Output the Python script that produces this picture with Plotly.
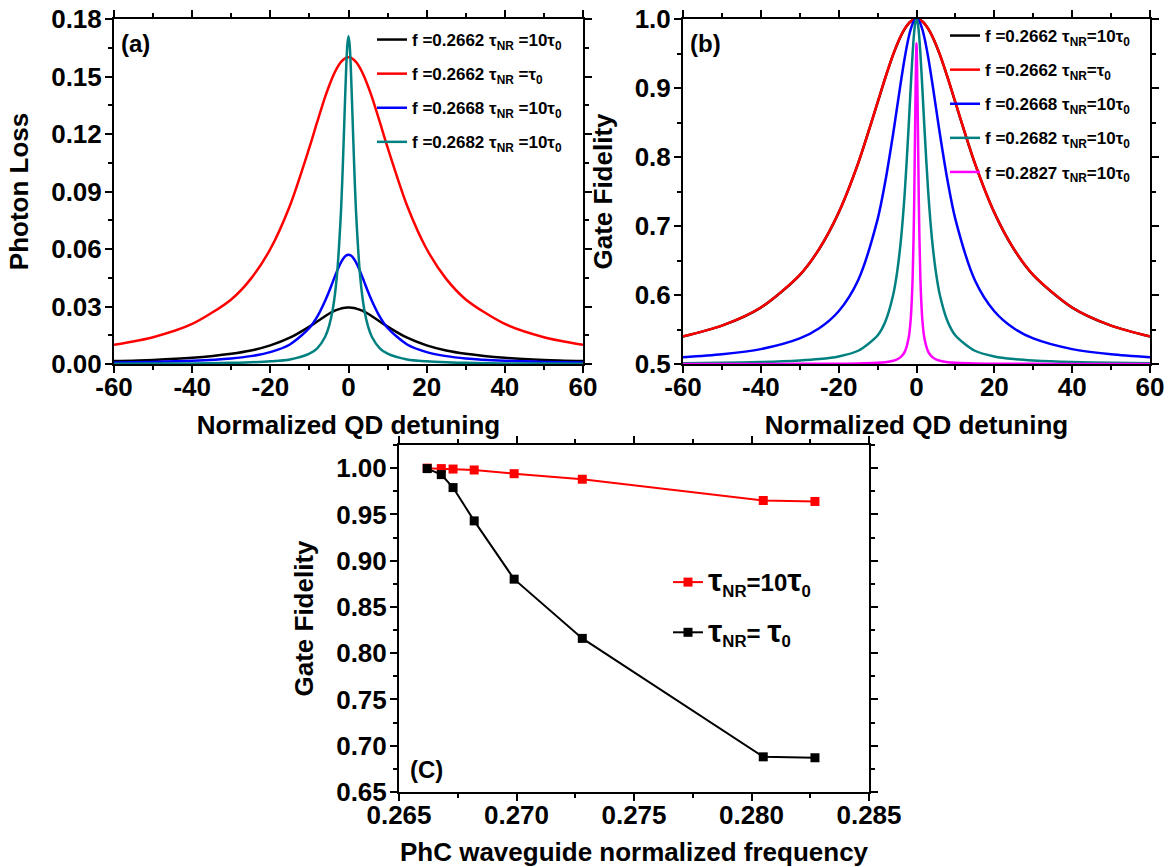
import plotly.graph_objects as go

# ---------------- data ----------------
x_det = [-60, -50, -40, -30, -25, -20, -15, -10, -8, -6, -5, -4, -3, -2, -1.5, -1, -0.6, -0.3, 0,
         0.3, 0.6, 1, 1.5, 2, 3, 4, 5, 6, 8, 10, 15, 20, 25, 30, 40, 50, 60]

# panel (a) photon loss
loss_2662_10 = [0.0015, 0.0021, 0.0032, 0.0053, 0.0070, 0.0097, 0.0137, 0.0195, 0.0222, 0.0249, 0.0262, 0.0273, 0.0282, 0.0289, 0.0292, 0.0293, 0.0294, 0.0295, 0.0295,
                0.0295, 0.0294, 0.0293, 0.0292, 0.0289, 0.0282, 0.0273, 0.0262, 0.0249, 0.0222, 0.0195, 0.0137, 0.0097, 0.0070, 0.0053, 0.0032, 0.0021, 0.0015]
loss_2662_1 = [0.0100, 0.0140, 0.0209, 0.0337, 0.0444, 0.0600, 0.0826, 0.1130, 0.1263, 0.1392, 0.1449, 0.1500, 0.1542, 0.1574, 0.1585, 0.1593, 0.1598, 0.1600, 0.1600,
               0.1600, 0.1598, 0.1593, 0.1585, 0.1574, 0.1542, 0.1500, 0.1449, 0.1392, 0.1263, 0.1130, 0.0826, 0.0600, 0.0444, 0.0337, 0.0209, 0.0140, 0.0100]
loss_2668_10 = [0.0008, 0.0011, 0.0017, 0.0029, 0.0041, 0.0062, 0.0102, 0.0188, 0.0247, 0.0329, 0.0377, 0.0430, 0.0482, 0.0527, 0.0545, 0.0559, 0.0566, 0.0569, 0.0570,
                0.0569, 0.0566, 0.0559, 0.0545, 0.0527, 0.0482, 0.0430, 0.0377, 0.0329, 0.0247, 0.0188, 0.0102, 0.0062, 0.0041, 0.0029, 0.0017, 0.0011, 0.0008]
loss_2682_10 = [0.0001, 0.0002, 0.0003, 0.0006, 0.0009, 0.0014, 0.0024, 0.0054, 0.0082, 0.0141, 0.0196, 0.0288, 0.0453, 0.0765, 0.1009, 0.1307, 0.1539, 0.1664, 0.1710,
                0.1664, 0.1539, 0.1307, 0.1009, 0.0765, 0.0453, 0.0288, 0.0196, 0.0141, 0.0082, 0.0054, 0.0024, 0.0014, 0.0009, 0.0006, 0.0003, 0.0002, 0.0001]

# panel (b) gate fidelity vs detuning
fid_2662_10 = [0.5398, 0.5555, 0.5817, 0.6289, 0.6667, 0.7194, 0.7908, 0.8788, 0.9150, 0.9483, 0.9628, 0.9756, 0.9859, 0.9936, 0.9963, 0.9984, 0.9994, 0.9999, 1.0000,
               0.9999, 0.9994, 0.9984, 0.9963, 0.9936, 0.9859, 0.9756, 0.9628, 0.9483, 0.9150, 0.8788, 0.7908, 0.7194, 0.6667, 0.6289, 0.5817, 0.5555, 0.5398]
fid_2662_1 = [0.5400, 0.5557, 0.5819, 0.6291, 0.6669, 0.7196, 0.7910, 0.8790, 0.9152, 0.9485, 0.9630, 0.9757, 0.9860, 0.9937, 0.9964, 0.9984, 0.9994, 0.9999, 1.0000,
              0.9999, 0.9994, 0.9984, 0.9964, 0.9937, 0.9860, 0.9757, 0.9630, 0.9485, 0.9152, 0.8790, 0.7910, 0.7196, 0.6669, 0.6291, 0.5819, 0.5557, 0.5400]
fid_2668_10 = [0.5098, 0.5140, 0.5216, 0.5371, 0.5518, 0.5765, 0.6215, 0.7097, 0.7651, 0.8337, 0.8715, 0.9094, 0.9446, 0.9738, 0.9849, 0.9932, 0.9975, 0.9994, 1.0000,
               0.9994, 0.9975, 0.9932, 0.9849, 0.9738, 0.9446, 0.9094, 0.8715, 0.8337, 0.7651, 0.7097, 0.6215, 0.5765, 0.5518, 0.5371, 0.5216, 0.5140, 0.5098]
fid_2682_10 = [0.5012, 0.5018, 0.5028, 0.5050, 0.5071, 0.5110, 0.5192, 0.5413, 0.5616, 0.6000, 0.6324, 0.6800, 0.7500, 0.8462, 0.9000, 0.9500, 0.9808, 0.9950, 1.0000,
               0.9950, 0.9808, 0.9500, 0.9000, 0.8462, 0.7500, 0.6800, 0.6324, 0.6000, 0.5616, 0.5413, 0.5192, 0.5110, 0.5071, 0.5050, 0.5028, 0.5018, 0.5012]
fid_2827_10 = [0.5000, 0.5001, 0.5001, 0.5002, 0.5003, 0.5004, 0.5007, 0.5017, 0.5026, 0.5046, 0.5066, 0.5102, 0.5179, 0.5384, 0.5641, 0.6231, 0.7325, 0.8720, 0.9650,
               0.8720, 0.7325, 0.6231, 0.5641, 0.5384, 0.5179, 0.5102, 0.5066, 0.5046, 0.5026, 0.5017, 0.5007, 0.5004, 0.5003, 0.5002, 0.5001, 0.5001, 0.5000]

# panel (c) gate fidelity vs waveguide frequency
freq = [0.2662, 0.2668, 0.2673, 0.2682, 0.2699, 0.2728, 0.2805, 0.2827]
fid_tau10 = [1.000, 0.9995, 0.999, 0.998, 0.994, 0.988, 0.965, 0.964]
fid_tau1 = [0.9995, 0.993, 0.979, 0.943, 0.880, 0.816, 0.688, 0.687]

# tick labels
det_ticks = [-60, -40, -20, 0, 20, 40, 60]
det_ticktext = ["-60", "-40", "-20", "0", "20", "40", "60"]

legend_a = ["f =0.2662 τ<sub>NR</sub> =10τ<sub>0</sub>", "f =0.2662 τ<sub>NR</sub> =τ<sub>0</sub>",
            "f =0.2668 τ<sub>NR</sub> =10τ<sub>0</sub>", "f =0.2682 τ<sub>NR</sub> =10τ<sub>0</sub>"]
legend_b = ["f =0.2662 τ<sub>NR</sub>=10τ<sub>0</sub>", "f =0.2662 τ<sub>NR</sub>=τ<sub>0</sub>",
            "f =0.2668 τ<sub>NR</sub>=10τ<sub>0</sub>", "f =0.2682 τ<sub>NR</sub>=10τ<sub>0</sub>",
            "f =0.2827 τ<sub>NR</sub>=10τ<sub>0</sub>"]
legend_c = ['<span style="font-size:32px">τ</span><sub>NR</sub>=10<span style="font-size:32px">τ</span><sub>0</sub>',
            '<span style="font-size:32px">τ</span><sub>NR</sub>= <span style="font-size:32px">τ</span><sub>0</sub>']

# ---------------- figure ----------------
FONT = "Liberation Sans, Arial, sans-serif"
W, H = 1172, 867
fig = go.Figure()

cols_a = ["#000000", "#FF0000", "#0000FF", "#008080"]
for i, (ys, c) in enumerate(zip([loss_2662_10, loss_2662_1, loss_2668_10, loss_2682_10], cols_a)):
    fig.add_trace(go.Scatter(x=x_det, y=ys, mode="lines", line=dict(color=c, width=2.5, shape="spline", smoothing=0.8),
                             name=legend_a[i], xaxis="x", yaxis="y", legend="legend", legendgroup="a%d" % i))

cols_b = ["#000000", "#FF0000", "#0000FF", "#008080", "#FF00FF"]
for i, (ys, c) in enumerate(zip([fid_2662_10, fid_2662_1, fid_2668_10, fid_2682_10, fid_2827_10], cols_b)):
    fig.add_trace(go.Scatter(x=x_det, y=ys, mode="lines", line=dict(color=c, width=2.5, shape="spline", smoothing=0.8),
                             name=legend_b[i], xaxis="x2", yaxis="y2", legend="legend2", legendgroup="b%d" % i))

fig.add_trace(go.Scatter(x=freq, y=fid_tau10, mode="lines+markers", line=dict(color="#FF0000", width=2),
                         marker=dict(symbol="square", size=9, color="#FF0000"),
                         name=legend_c[0], xaxis="x3", yaxis="y3", legend="legend3", legendgroup="c0"))
fig.add_trace(go.Scatter(x=freq, y=fid_tau1, mode="lines+markers", line=dict(color="#000000", width=2),
                         marker=dict(symbol="square", size=9, color="#000000"),
                         name=legend_c[1], xaxis="x3", yaxis="y3", legend="legend3", legendgroup="c1"))


def px_x(p):
    return p / W


def px_y(p):
    return 1 - p / H


def ax(domain, rng, tick0, dtick, minor, fmt, title, anchor, standoff, tickvals=None, ticktext=None):
    d = dict(domain=domain, range=rng, tickformat=fmt, automargin=False,
             showline=True, linecolor="black", linewidth=2, mirror="ticks",
             ticks="outside", ticklen=7, tickwidth=2, tickcolor="black",
             ticklabelstandoff=standoff,
             minor=dict(dtick=minor, tick0=tick0, ticks="outside", ticklen=4, tickwidth=2,
                        tickcolor="black", showgrid=False),
             showgrid=False, zeroline=False, anchor=anchor,
             tickfont=dict(family=FONT, size=26, color="black", weight="bold"),
             title=dict(text=title, font=dict(family=FONT, size=26, color="black", weight="bold")))
    if tickvals is not None:
        d.update(tickmode="array", tickvals=tickvals, ticktext=ticktext)
    else:
        d.update(tick0=tick0, dtick=dtick)
    return d


xa_dom = [px_x(114), px_x(583)]
xb_dom = [px_x(683), px_x(1150)]
xc_dom = [px_x(399), px_x(869)]
yab_dom = [px_y(364), px_y(19)]
yc_dom = [px_y(792), px_y(445)]

legend_common = dict(bgcolor="rgba(0,0,0,0)", borderwidth=0, traceorder="grouped", itemwidth=30,
                     xanchor="left", yanchor="top", xref="paper", yref="paper")

fig.update_layout(
    width=W, height=H, autosize=False,
    margin=dict(l=0, r=0, t=0, b=0),
    paper_bgcolor="white", plot_bgcolor="white",
    font=dict(family=FONT, color="black"),
    xaxis=ax(xa_dom, [-60, 60], -60, 20, 10, None, "Normalized QD detuning", "y", -8, det_ticks, det_ticktext),
    yaxis=ax(yab_dom, [0, 0.18], 0, 0.03, 0.015, ".2f", "Photon Loss", "x", -2),
    xaxis2=ax(xb_dom, [-60, 60], -60, 20, 10, None, "Normalized QD detuning", "y2", -8, det_ticks, det_ticktext),
    yaxis2=ax(yab_dom, [0.5, 1.0], 0.5, 0.1, 0.05, ".1f", "Gate Fidelity", "x2", -2),
    xaxis3=ax(xc_dom, [0.265, 0.285], 0.265, 0.005, 0.0025, ".3f", "PhC waveguide normalized frequency", "y3", -8),
    yaxis3=ax(yc_dom, [0.65, 1.025], 0.65, 0.05, 0.025, ".2f", "Gate Fidelity", "x3", -2),
    legend=dict(**legend_common, x=px_x(372), y=px_y(22), tracegroupgap=9,
                font=dict(family=FONT, size=17, color="black", weight="bold")),
    legend2=dict(**legend_common, x=px_x(945), y=px_y(18), tracegroupgap=9,
                 font=dict(family=FONT, size=17, color="black", weight="bold")),
    legend3=dict(**legend_common, x=px_x(668), y=px_y(560), tracegroupgap=16,
                 font=dict(family=FONT, size=24, color="black", weight="bold")),
)

for txt, xr, yr, xx, yy in [("(a)", "x domain", "y domain", 0.01, 0.93),
                             ("(b)", "x2 domain", "y2 domain", 0.01, 0.93),
                             ("(C)", "x3 domain", "y3 domain", 0.02, 0.065)]:
    fig.add_annotation(text=txt, xref=xr, yref=yr, x=xx, y=yy, xanchor="left", yanchor="middle",
                       showarrow=False, font=dict(family=FONT, size=24, color="black", weight="bold"))

fig.write_html("out.html", config={"displayModeBar": False},
               post_script="document.body.style.margin='0px';")
